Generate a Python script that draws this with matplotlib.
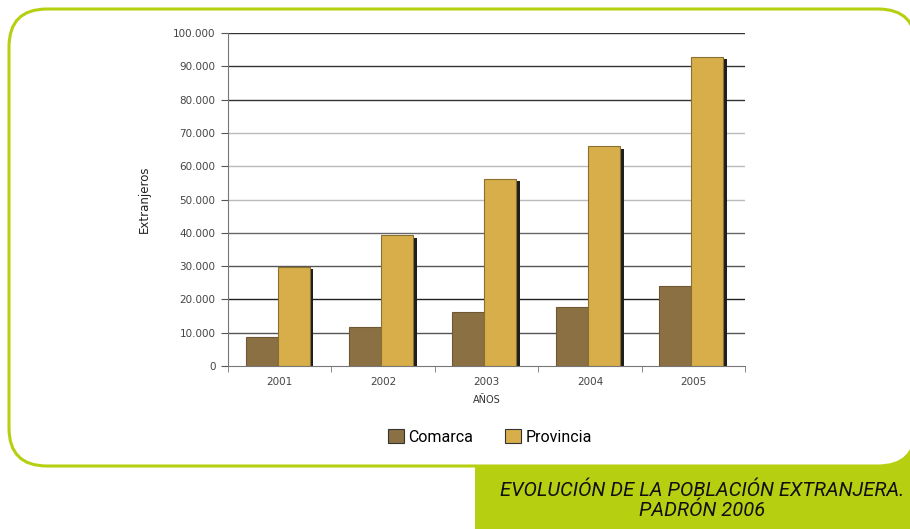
import numpy as np
import matplotlib
matplotlib.use("Agg")
import matplotlib.pyplot as plt
from matplotlib.patches import FancyBboxPatch, Rectangle, Patch
from matplotlib.transforms import Affine2D
from matplotlib.ticker import FuncFormatter

years = ["2001", "2002", "2003", "2004", "2005"]
comarca = [8600, 11600, 16300, 17600, 24100]
provincia = [29800, 39200, 56200, 66000, 92800]
yticks = [0, 10000, 20000, 30000, 40000, 50000, 60000, 70000, 80000, 90000, 100000]

green = "#b6cf10"
c_com = "#8b7043"
c_prov = "#d7ae4a"
narrow = ["Roboto", "DejaVu Sans"]

fig = plt.figure(figsize=(9.1, 5.29), dpi=100)
px = Affine2D().scale(1 / 100) + fig.dpi_scale_trans
H = 529

# green caption box and rounded white panel
fig.patches.append(Rectangle((475, 0), 440, H - 430, transform=px, facecolor=green,
                             edgecolor="none", zorder=0))
fig.patches.append(FancyBboxPatch((9, H - 466), 907, 457, boxstyle="round,pad=0,rounding_size=38",
                                  transform=px, facecolor="white", edgecolor=green,
                                  linewidth=2.2, zorder=1))

ax = fig.add_axes([228 / 910, 1 - 366 / H, 517 / 910, 333 / H])
ax.set_zorder(2)
ax.patch.set_alpha(0)

x = np.arange(len(years))
w = 0.31
# dark shadow on the right of the Provincia bars
ax.bar(x - 0.02 + w - 0.01, np.array(provincia) - 700, 0.045, align="edge", color="#1e1e1e", zorder=2)
ax.bar(x - 0.33, comarca, w, align="edge", color=c_com, edgecolor="#6e5833", linewidth=0.8, zorder=3)
ax.bar(x - 0.02, provincia, w, align="edge", color=c_prov, edgecolor="#8a7030", linewidth=0.8, zorder=3)

ax.set_xlim(-0.5, 4.5)
ax.set_ylim(0, 100000)
ax.set_yticks(yticks)
ax.yaxis.set_major_formatter(FuncFormatter(lambda v, p: f"{int(v):,}".replace(",", ".")))
ax.set_xticks(x)
ax.set_xticklabels(years)
ax.set_xticks(np.arange(-0.5, 5, 1), minor=True)
ax.tick_params(axis="x", which="major", length=0, pad=8, labelsize=7.5, colors="#444444")
ax.tick_params(axis="x", which="minor", length=4, color="#777777", direction="out")
ax.tick_params(axis="y", length=5, color="#555555", labelsize=7.5, colors="#444444", pad=4)

grid_colors = ["#444444", "#555555", "#222222", "#555555", "#666666", "#bbbbbb",
               "#bbbbbb", "#bbbbbb", "#333333", "#333333", "#333333"]
for v, gc in zip(yticks[1:], grid_colors[1:]):
    ax.axhline(v, color=gc, linewidth=1.0, zorder=1)

for s in ["top", "right"]:
    ax.spines[s].set_visible(False)
ax.spines["left"].set_color("#777777")
ax.spines["bottom"].set_color("#777777")

ax.set_ylabel("Extranjeros", fontsize=8.5, color="#222222", labelpad=16)
ax.set_xlabel("AÑOS", fontsize=7, color="#333333", labelpad=6)

handles = [Patch(facecolor=c_com, edgecolor="#333333", linewidth=0.8),
           Patch(facecolor=c_prov, edgecolor="#333333", linewidth=0.8)]
fig.legend(handles, ["Comarca", "Provincia"], loc="center", bbox_to_anchor=(490 / 910, 1 - 437 / H),
           ncol=2, frameon=False, prop={"family": narrow, "size": 11.5},
           handlelength=1.0, handleheight=1.0, handletextpad=0.3, columnspacing=2.0)

fig.text(702 / 910, 1 - 490 / H, "EVOLUCIÓN DE LA POBLACIÓN EXTRANJERA.", ha="center", va="center",
         fontsize=14.5, style="italic", family=narrow, color="#111111")
fig.text(702 / 910, 1 - 511 / H, "PADRÓN 2006", ha="center", va="center",
         fontsize=14.5, style="italic", family=narrow, color="#111111")

fig.savefig("out.png", dpi=100)
